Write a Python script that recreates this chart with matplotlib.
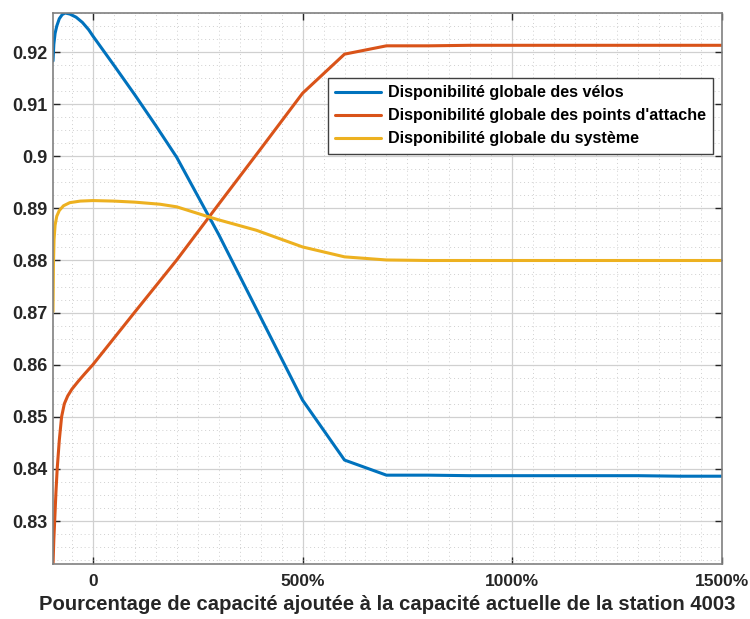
import matplotlib
matplotlib.use("Agg")
import matplotlib.pyplot as plt
from matplotlib.ticker import MultipleLocator

plt.rcParams['font.family'] = ['Liberation Sans', 'DejaVu Sans']

x_velos = [-95, -93, -90, -86, -80, -73, -66, -55, -40, -25, -10, 0, 25, 50, 100, 150, 200, 300, 400, 500, 600, 700, 800, 900, 1000, 1100, 1200, 1300, 1400, 1500]
y_velos = [0.9183, 0.9215, 0.9236, 0.9250, 0.9264, 0.9272, 0.9275, 0.9273, 0.9267, 0.9257, 0.9243, 0.9231, 0.9203, 0.9175, 0.9118, 0.9059, 0.8998, 0.8850, 0.8691, 0.8532, 0.8417, 0.8388, 0.8388, 0.8387, 0.8387, 0.8387, 0.8387, 0.8387, 0.8386, 0.8386]

x_attache = [-95, -93, -91, -88, -85, -80, -74.5, -68, -60, -50, -35, -20, 0, 100, 200, 300, 400, 500, 600, 700, 800, 900, 1000, 1100, 1200, 1300, 1400, 1500]
y_attache = [0.8215, 0.8265, 0.8300, 0.8355, 0.8400, 0.8455, 0.8500, 0.8525, 0.8540, 0.8553, 0.8568, 0.8582, 0.8600, 0.8701, 0.8801, 0.8908, 0.9014, 0.9121, 0.9196, 0.9212, 0.9212, 0.9213, 0.9213, 0.9213, 0.9213, 0.9213, 0.9213, 0.9213]

x_systeme = [-95, -94, -92.5, -90, -86, -80, -70, -55, -30, 0, 50, 100, 160, 200, 279, 300, 390, 500, 600, 700, 800, 900, 1000, 1100, 1200, 1300, 1400, 1500]
y_systeme = [0.8702, 0.8790, 0.8840, 0.8868, 0.8885, 0.8896, 0.8905, 0.8911, 0.8914, 0.8915, 0.8914, 0.8912, 0.8908, 0.8903, 0.8883, 0.8878, 0.8858, 0.8826, 0.8807, 0.8801, 0.8800, 0.8800, 0.8800, 0.8800, 0.8800, 0.8800, 0.8800, 0.8800]

labels = ["Disponibilité globale des vélos",
          "Disponibilité globale des points d'attache",
          "Disponibilité globale du système"]
colors = ["#0072BD", "#D95319", "#EDB120"]

x_ticks = [0, 500, 1000, 1500]
x_ticklabels = ["0", "500%", "1000%", "1500%"]
y_ticks = [0.83, 0.84, 0.85, 0.86, 0.87, 0.88, 0.89, 0.90, 0.91, 0.92]
y_ticklabels = ["0.83", "0.84", "0.85", "0.86", "0.87", "0.88", "0.89", "0.9", "0.91", "0.92"]

fig = plt.figure(figsize=(7.5, 6.19), dpi=100)
ax = fig.add_axes([53/750, 1-564/619, (722-53)/750, (564-13)/619])

for xs, ys, lab, c in zip([x_velos, x_attache, x_systeme], [y_velos, y_attache, y_systeme], labels, colors):
    ax.plot(xs, ys, color=c, lw=2.2, label=lab, solid_capstyle='round', solid_joinstyle='round')

ax.set_xlim(-95, 1500)
ax.set_ylim(0.82175, 0.9275)
ax.set_xticks(x_ticks)
ax.set_xticklabels(x_ticklabels)
ax.set_yticks(y_ticks)
ax.set_yticklabels(y_ticklabels)
ax.xaxis.set_minor_locator(MultipleLocator(50))
ax.yaxis.set_minor_locator(MultipleLocator(0.0025))

ax.grid(which='major', color='#d0d0d0', lw=0.9, ls='-')
ax.grid(which='minor', color='#d0d0d0', lw=0.7, ls=(0, (1, 3)))
ax.set_axisbelow(True)

ax.tick_params(which='major', direction='in', length=5, width=1, color='#262626',
               top=True, right=True, labelsize=12.5, labelcolor='#262626')
ax.tick_params(axis='y', which='major', labelsize=13)
ax.tick_params(axis='x', which='major', pad=7.5)
ax.tick_params(axis='y', which='major', pad=4)
ax.tick_params(which='minor', length=0)
for lab in ax.get_xticklabels() + ax.get_yticklabels():
    lab.set_fontweight('bold')
for s in ax.spines.values():
    s.set_color('#808080')
    s.set_linewidth(1.2)

ax.set_xlabel("Pourcentage de capacité ajoutée à la capacité actuelle de la station 4003",
              fontsize=14.6, fontweight='bold', color='#262626', labelpad=4)

leg = ax.legend(loc='upper right', bbox_to_anchor=(0.9866, 0.882), borderaxespad=0,
                fancybox=False, framealpha=1, edgecolor='#404040',
                prop={'weight': 'bold', 'size': 11.6},
                handlelength=2.8, handletextpad=0.45, borderpad=0.45, labelspacing=0.5)
leg.get_frame().set_linewidth(1.0)

fig.savefig("out.png", dpi=100)
